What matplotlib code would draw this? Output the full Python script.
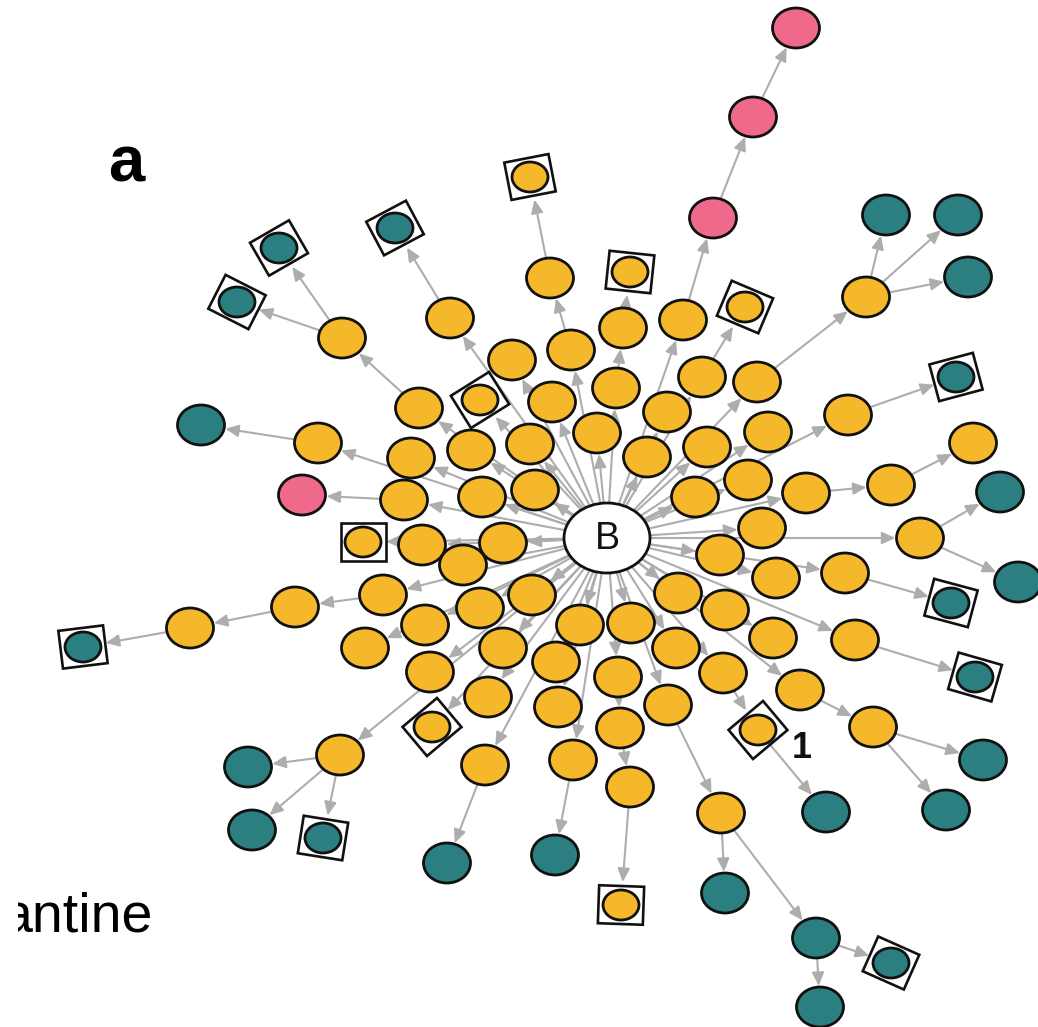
import numpy as np
import matplotlib
matplotlib.use("Agg")
import matplotlib.pyplot as plt
from matplotlib.patches import Ellipse, Rectangle, FancyArrowPatch

# ── Nodes (layout in picture pixels) ─────────────────────────────────
# kind: c = centre, y = yellow, t = teal, p = pink ; a trailing "b" = boxed
# parent: index of the source node of the incoming edge (-1 for root)

node_x = [607,
          419, 480, 512, 552, 667, 768, 707, 647, 597, 530,
          471, 411, 535, 482, 695, 748, 762, 720, 422, 503,
          463, 480, 532, 425, 580, 631, 678, 776, 725, 773,
          676, 365, 503, 556, 430, 488, 558, 450, 571, 616,
          683, 702, 757, 848, 806, 920, 845, 855, 800, 723,
          668, 618, 573, 485, 432, 340, 383, 363, 404, 318,
          342, 237, 279, 395, 550, 530, 623, 630, 713, 753,
          796, 745, 866, 886, 958, 968, 956, 891, 973, 1000,
          1018, 951, 975, 873, 983, 946, 758, 826, 721, 725,
          816, 891, 820, 620, 630, 621, 555, 447, 248, 252,
          323, 295, 190, 83, 302, 201]

node_y = [538,
          408, 400, 360, 402, 412, 432, 447, 457, 433, 444,
          450, 458, 490, 497, 497, 480, 528, 555, 545, 543,
          565, 608, 595, 625, 625, 623, 593, 578, 610, 638,
          648, 648, 648, 662, 672, 697, 707, 318, 350, 388,
          320, 377, 382, 415, 493, 538, 573, 640, 690, 673,
          705, 677, 760, 765, 727, 755, 595, 542, 500, 443,
          338, 302, 248, 228, 278, 177, 328, 272, 218, 117,
          28, 307, 297, 215, 215, 277, 377, 485, 443, 492,
          582, 603, 677, 727, 760, 810, 730, 812, 813, 893,
          938, 963, 1007, 728, 787, 905, 855, 863, 767, 830,
          838, 607, 628, 647, 495, 425]

node_kind = ["c",
             "y", "yb", "y", "y", "y", "y", "y", "y", "y", "y",
             "y", "y", "y", "y", "y", "y", "y", "y", "y", "y",
             "y", "y", "y", "y", "y", "y", "y", "y", "y", "y",
             "y", "y", "y", "y", "y", "y", "y", "y", "y", "y",
             "y", "y", "y", "y", "y", "y", "y", "y", "y", "y",
             "y", "y", "y", "y", "yb", "y", "y", "yb", "y", "y",
             "y", "tb", "tb", "tb", "y", "yb", "y", "yb", "p", "p",
             "p", "yb", "y", "t", "t", "t", "tb", "y", "y", "t",
             "t", "tb", "tb", "y", "t", "t", "yb", "t", "y", "t",
             "t", "tb", "t", "y", "y", "yb", "t", "t", "t", "t",
             "tb", "y", "y", "tb", "p", "t"]

node_parent = [-1] + [0] * 60 + [
    1, 61, 61, 38, 39, 65, 40, 67, 41, 69,
    70, 42, 43, 73, 73, 73, 44, 45, 78, 46,
    46, 47, 48, 49, 84, 84, 50, 87, 51, 89,
    89, 91, 91, 52, 94, 95, 53, 54, 56, 56,
    56, 57, 102, 103, 59, 60]

# visual (counter-clockwise) tilt of the square drawn round boxed nodes
box_angle = {2: 32, 55: 40, 58: 0, 62: -27, 63: 30, 64: 28, 66: 11,
             68: -6, 72: -23, 77: 15, 82: -15, 83: -16, 87: 40, 92: -24,
             96: -2, 101: -9, 104: 7}

FILL = {"y": "#F6B82B", "t": "#2B7F80", "p": "#EF6A8A", "c": "white"}
EDGE_C = "#ADADAD"

W, H = 1038, 1027
fig = plt.figure(figsize=(W / 100, H / 100), dpi=100)
ax = fig.add_axes([0, 0, 1, 1])
ax.set_xlim(0, W)
ax.set_ylim(H, 0)
ax.axis("off")


def size_of(k):
    if k == "c":
        return 86, 70
    if k.endswith("b"):
        return 36, 30
    return 47, 40


def edge_point(i, ux, uy):
    # distance from node centre to its outline along direction (ux, uy)
    k = node_kind[i]
    if k.endswith("b"):
        return 23
    w, h = size_of(k)
    a, b = w / 2 + 1, h / 2 + 1
    return 1.0 / np.sqrt((ux / a) ** 2 + (uy / b) ** 2)


# ── Edges ────────────────────────────────────────────────────────────
for i, p in enumerate(node_parent):
    if p < 0:
        continue
    x0, y0 = node_x[p], node_y[p]
    x1, y1 = node_x[i], node_y[i]
    d = np.hypot(x1 - x0, y1 - y0)
    ux, uy = (x1 - x0) / d, (y1 - y0) / d
    r = edge_point(i, ux, uy)
    end = (x1 - ux * r, y1 - uy * r)
    ax.add_patch(FancyArrowPatch(
        (x0, y0), end, arrowstyle="-|>,head_length=8,head_width=3.6",
        mutation_scale=1, color=EDGE_C, lw=1.5,
        shrinkA=0, shrinkB=0, zorder=1))

# ── Nodes ────────────────────────────────────────────────────────────
for i, k in enumerate(node_kind):
    w, h = size_of(k)
    x, y = node_x[i], node_y[i]
    ax.add_patch(Ellipse((x, y), w, h, facecolor=FILL[k[0]],
                         edgecolor="#111111", lw=2.0, zorder=3))
    if k.endswith("b"):
        ax.add_patch(Rectangle((x - 22.5, y - 19), 45, 38,
                               angle=-box_angle[i], rotation_point="center",
                               fill=False, edgecolor="#111111", lw=1.9,
                               zorder=4))

ax.text(node_x[0], node_y[0] + 1, "B", ha="center", va="center",
        fontsize=27, family="Liberation Sans", color="#111111", zorder=5)
ax.text(792, 749, "1", ha="left", va="center", fontsize=26,
        fontweight="bold", family="Liberation Sans", color="#111111",
        zorder=5)

# panel letter and clipped caption
ax.text(108, 182, "a", ha="left", va="baseline", fontsize=47,
        fontweight="bold", family="Liberation Sans", color="black")
ax.text(2, 932, "antine", ha="left", va="baseline", fontsize=40,
        family="Liberation Sans", color="black", zorder=5)
ax.add_patch(Rectangle((-5, 880), 23, 70, facecolor="white",
                       edgecolor="none", zorder=6))

fig.savefig("out.png", dpi=100, facecolor="white")
